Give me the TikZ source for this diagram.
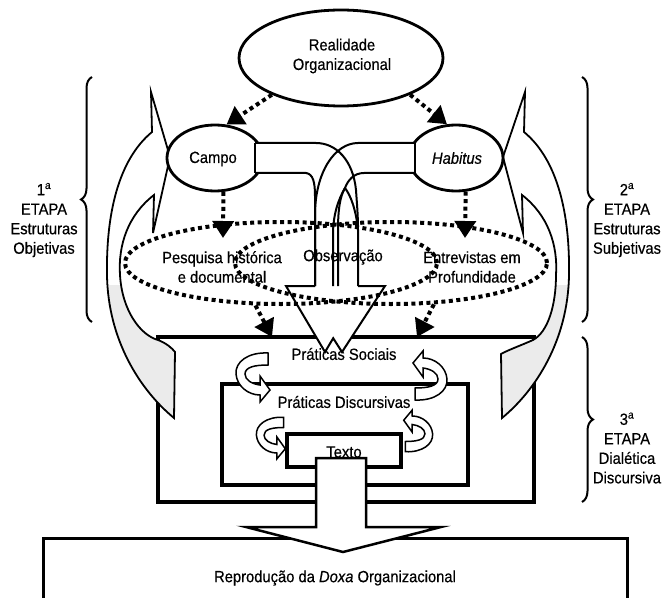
\documentclass[tikz,border=0pt]{standalone}
\usepackage{fontspec}
\setmainfont{Liberation Sans}[FakeStretch=0.91,FakeBold=0.4]
\usetikzlibrary{arrows.meta,decorations.pathreplacing,shapes.geometric}
\newcommand\lpathA{(154,195) -- (153,233) -- (170,157) -- (151,92) -- (152,132) .. controls (118,160) and (106,215) .. (107,275) .. controls (108,340) and (140,390) .. (174,418) -- (175,352) .. controls (172,348) and (166,343) .. (158,340) .. controls (140,335) and (122,310) .. (120,275) .. controls (118,245) and (128,215) .. (154,195) -- cycle}
\newcommand\rpathA{(522,195) -- (523,233) -- (503,157) -- (525,92) -- (524,132) .. controls (558,160) and (570,215) .. (569,275) .. controls (568,340) and (536,390) .. (502,418) -- (501,354) .. controls (508,350) and (522,345) .. (533,340) .. controls (548,332) and (556,305) .. (556,275) .. controls (558,245) and (548,215) .. (522,195) -- cycle}
\begin{document}
\begin{tikzpicture}[x=1bp,y=-1bp,
  lbl/.style={font=\fontsize{16.2bp}{19.5bp}\selectfont, align=center, inner sep=0pt},
  solidell/.style={draw, ellipse, line width=2.8bp, fill=white, inner sep=0pt},
  frame/.style={draw, rectangle, line width=3.2bp, inner sep=0pt},
  band/.style={line width=2bp, line join=miter},
  bigarr/.style={line width=1.8bp, line join=miter},
  dots/.style={line width=4bp, dash pattern=on 4bp off 3.5bp},
  darrow/.style={dots, -{Triangle[length=17bp,width=21bp]}},
  dotell/.style={draw, ellipse, dots, inner sep=0pt},
  brc/.style={line width=2bp, decorate, decoration={brace, amplitude=11bp}},
  curlarr/.pic={
    \path[draw, fill=white, line width=1.5bp, line join=miter]
      (16,-22) .. controls (-4,-23) and (-17,-13) .. (-16,-1)
      .. controls (-15,11) and (-4,20) .. (8,20) -- (8,27) -- (18,15) -- (8,1) -- (8,10)
      .. controls (0,9) and (-7,5) .. (-7,-1)
      .. controls (-7,-8) and (3,-10) .. (16,-10) -- cycle;
  }
]
\useasboundingbox (0,0) rectangle (663,598);
\fill[white] (0,0) rectangle (663,598);

% boxes of the third stage
\node[frame, minimum width=376bp, minimum height=165bp] (soc) at (346,419.5) {};
\node[frame, minimum width=246bp, minimum height=101bp] (disc) at (345,434.5) {};
\node[frame, minimum width=114bp, minimum height=33bp] (txtbox) at (344,450.5) {};

% big side curved arrows
\path[fill=white] \lpathA;
\path[fill=white] \rpathA;
\begin{scope}
  \clip (0,285) rectangle (663,440);
  \fill[gray!16] \lpathA;
  \fill[gray!16] \rpathA;
\end{scope}
\draw[bigarr] \lpathA;
\draw[bigarr] \rpathA;

% ellipses
\node[solidell, minimum width=204bp, minimum height=96bp] (real) at (341,58) {};
\node[solidell, minimum width=96bp, minimum height=66bp] (campo) at (215,158) {};
\node[solidell, minimum width=94bp, minimum height=66bp] (hab) at (456,158) {};

% central bent block arrows
\fill[white] (255,143) rectangle (318,173);
\fill[white] (357,143) rectangle (415,173);
\fill[white] (286,286) -- (364,286) -- (325,352) -- cycle;
\fill[white] (300,286) -- (385,286) -- (342,352) -- cycle;
\draw[band] (255,143) -- (255,173);
\draw[band] (415,143) -- (415,173);
\draw[band] (255,143) -- (316,143) .. controls (336,143) and (353,160) .. (356,190) .. controls (357,205) and (358,215) .. (358,230) -- (358,286);
\draw[band] (255,173) -- (306,173) .. controls (313,174) and (315,182) .. (315,196) -- (315,286);
\draw[band] (415,143) -- (358,143) .. controls (335,143) and (315,172) .. (315,215) -- (315,286);
\draw[band] (415,173) -- (364,173) .. controls (354,173) and (348,180) .. (345,188) .. controls (338,200) and (333,215) .. (333,235) -- (333,286);
\draw[band] (345,188) .. controls (340,196) and (338,210) .. (338,230) -- (338,286);
\draw[band] (345,188) .. controls (351,196) and (356,210) .. (358,230);
\draw[band] (315,286) -- (286,286) -- (325,352) -- (333.2,338.2) -- (342,352) -- (385,286) -- (358,286);

% small curved arrows
\pic at (252,375) {curlarr};
\pic[rotate=180] at (431,378) {curlarr};
\pic[scale=0.85] at (270,436) {curlarr};
\pic[rotate=180,scale=0.85] at (419,433) {curlarr};

% final box and arrow
\node[frame, minimum width=584bp, minimum height=90bp, anchor=north west] (repro) at (42,537) {};
\draw[line width=2.5bp, fill=white, line join=miter] (316,458) -- (366,458) -- (366,527) -- (441,527) -- (343,552) -- (246,527) -- (316,527) -- cycle;

% braces
\draw[brc] (92,322) -- (92,77);
\draw[brc] (582,77) -- (582,322);
\draw[brc] (582,337) -- (582,502);

% texts
\node[lbl] (treal) at (342,56) {Realidade\\Organizacional};
\node[lbl] (tcampo) at (213,159) {Campo};
\node[lbl] (thab) at (457,158) {\itshape Habitus};
\node[lbl] (tpesq) at (222,267) {Pesquisa histórica\\e documental};
\node[lbl] (tobs) at (343,257) {Observação};
\node[lbl] (tentr) at (472,267) {Entrevistas em\\Profundidade};
\node[lbl] (tsoc) at (344,354) {Práticas Sociais};
\node[lbl] (tdisc) at (344,402) {Práticas Discursivas};
\node[lbl] (ttexto) at (344,452) {Texto};
\node[lbl] (trepro) at (335,578) {Reprodução da \textit{Doxa} Organizacional};
\node[lbl] (et1) at (44,220) {1\textsuperscript{a}\\ETAPA\\Estruturas\\Objetivas};
\node[lbl] (et2) at (627,220) {2\textsuperscript{a}\\ETAPA\\Estruturas\\Subjetivas};
\node[lbl] (et3) at (627,448) {3\textsuperscript{a}\\ETAPA\\Dialética\\Discursiva};

% dotted ellipses and dotted arrows
\node[dotell, minimum width=312bp, minimum height=82bp] (ea) at (281,263) {};
\node[dotell, minimum width=312bp, minimum height=82bp] (eb) at (391,263) {};
\coordinate (ct1) at (223,238);
\coordinate (ct2) at (465,238);
\coordinate (lt) at (272,337);
\coordinate (rt) at (417,337);
\draw[darrow] (real.208) -- (campo.71);
\draw[darrow] (real.332) -- (hab.105);
\draw[darrow] (campo.-76) -- (ct1);
\draw[darrow] (hab.-74.5) -- (ct2);
\draw[darrow] (ea.239) -- (lt);
\draw[darrow] (eb.316) -- (rt);
\end{tikzpicture}
\end{document}
